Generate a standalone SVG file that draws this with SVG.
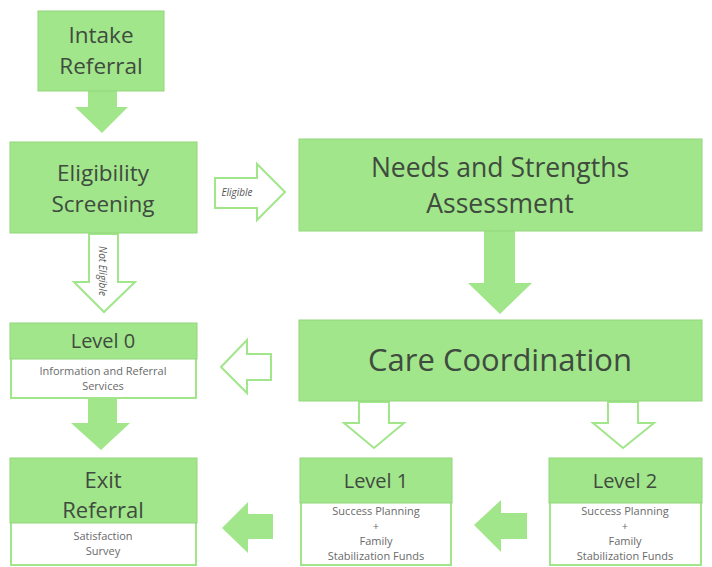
<svg xmlns="http://www.w3.org/2000/svg" width="712" height="567" viewBox="0 0 712 567">
<style>
.box{fill:#a1e68a;stroke:#92d67c;stroke-width:1}
.wbox{fill:#ffffff;stroke:#a1e68a;stroke-width:2}
.t{font-family:"Open Sans",Lato,sans-serif;fill:#404b40;text-anchor:middle}
.s{font-family:"Open Sans",Lato,sans-serif;fill:#6a6a6a;text-anchor:middle;font-size:11px}
.lbl{font-family:"Open Sans",Lato,sans-serif;fill:#555;font-style:italic;font-size:10px;text-anchor:middle}
.fa{fill:#a1e68a}
.ha{fill:#ffffff;stroke:#a1e68a;stroke-width:2;stroke-linejoin:miter}
</style>
<rect width="712" height="567" fill="#ffffff"/>
<g id="connectors">
<polygon class="fa" points="88,91 117,91 117,107 128,107 102,133 75,107 88,107"/>
<polygon class="ha" points="215,178 257,178 257,164 285,192 257,220 257,208 215,208"/>
<text class="lbl" x="237" y="196">Eligible</text>
<polygon class="fa" points="484,231 515,231 515,283 532,283 500,314 468,283 484,283"/>
<polygon class="ha" points="89,234 118,234 118,282 135,282 104,312 74,282 89,282"/>
<text class="lbl" transform="translate(99,271) rotate(90)" x="0" y="0" font-size="10.5">Not Eligible</text>
<polygon class="ha" points="221,367 247,340 247,354 271,354 271,380 247,380 247,393"/>
<polygon class="fa" points="88,399 117,399 117,423 130,423 101,450 71,423 88,423"/>
<polygon class="fa" points="222,528 248,502 248,514 273,514 273,539 248,539 248,553"/>
<polygon class="ha" points="359,402 389,402 389,423 404,423 374,448 344,423 359,423"/>
<polygon class="ha" points="608,402 638,402 638,423 654,423 623,448 593,423 608,423"/>
<polygon class="fa" points="474,525 501,500 501,513 527,513 527,539 501,539 501,552"/>
</g>
<g id="intake">
<rect class="box" x="38" y="11" width="126" height="80"/>
<text class="t" x="101" y="43" font-size="22.5">Intake</text>
<text class="t" x="101" y="74" font-size="22.5">Referral</text>
</g>
<g id="eligibility">
<rect class="box" x="10" y="142" width="187" height="91"/>
<text class="t" x="103" y="181" font-size="22.5">Eligibility</text>
<text class="t" x="103" y="212" font-size="22.5">Screening</text>
</g>
<g id="needs">
<rect class="box" x="299" y="139" width="403" height="92"/>
<text class="t" x="500" y="177" font-size="26.5">Needs and Strengths</text>
<text class="t" x="500" y="213" font-size="26.5">Assessment</text>
</g>
<g id="care">
<rect class="box" x="299" y="320" width="403" height="81"/>
<text class="t" x="500" y="371" font-size="31">Care Coordination</text>
</g>
<g id="level0">
<rect class="wbox" x="11" y="324" width="185" height="74"/>
<rect class="box" x="10" y="323" width="187" height="36"/>
<text class="t" x="103" y="348" font-size="20">Level 0</text>
<text class="s" x="103" y="375" font-size="11.5">Information and Referral</text>
<text class="s" x="103" y="390" font-size="11.5">Services</text>
</g>
<g id="exit">
<rect class="wbox" x="11" y="459" width="185" height="106"/>
<rect class="box" x="10" y="458" width="187" height="65"/>
<text class="t" x="103" y="488" font-size="22">Exit</text>
<text class="t" x="103" y="518" font-size="22">Referral</text>
<text class="s" x="103" y="540">Satisfaction</text>
<text class="s" x="103" y="555">Survey</text>
</g>
<g id="level1">
<rect class="wbox" x="301" y="459" width="150" height="106"/>
<rect class="box" x="300" y="458" width="152" height="45"/>
<text class="t" x="376" y="488" font-size="20">Level 1</text>
<text class="s" x="376" y="515">Success Planning</text>
<text class="s" x="376" y="530">+</text>
<text class="s" x="376" y="545">Family</text>
<text class="s" x="376" y="560">Stabilization Funds</text>
</g>
<g id="level2">
<rect class="wbox" x="550" y="459" width="151" height="106"/>
<rect class="box" x="549" y="458" width="153" height="45"/>
<text class="t" x="625" y="488" font-size="20">Level 2</text>
<text class="s" x="625" y="515">Success Planning</text>
<text class="s" x="625" y="530">+</text>
<text class="s" x="625" y="545">Family</text>
<text class="s" x="625" y="560">Stabilization Funds</text>
</g>
</svg>
